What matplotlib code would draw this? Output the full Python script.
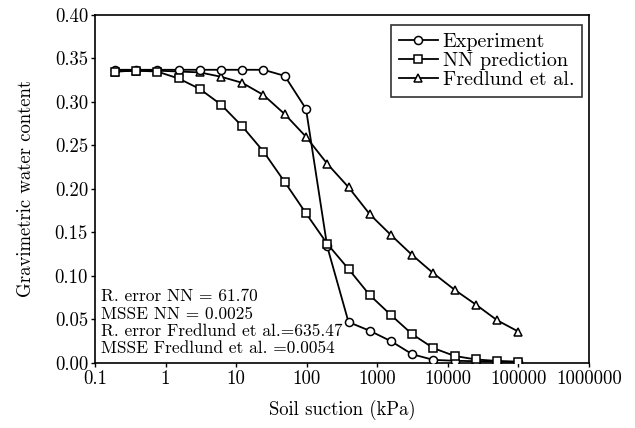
#!/usr/bin/env python3
"""Soil-water characteristic curve: experiment vs NN prediction vs Fredlund et al."""

import matplotlib
matplotlib.use("Agg")
import matplotlib.pyplot as plt

# suction values (kPa), halving steps down from 100000
suction = [0.19, 0.38, 0.76, 1.53, 3.05, 6.1, 12.2, 24.4, 48.8, 97.7,
           195, 391, 781, 1563, 3125, 6250, 12500, 25000, 50000, 100000]

experiment = [0.337, 0.337, 0.337, 0.337, 0.337, 0.337, 0.337, 0.337, 0.330, 0.292,
              0.134, 0.047, 0.037, 0.025, 0.010, 0.0035, 0.0025, 0.002, 0.0015, 0.001]

nn_pred = [0.335, 0.336, 0.335, 0.327, 0.315, 0.297, 0.272, 0.243, 0.208, 0.172,
           0.137, 0.108, 0.078, 0.055, 0.033, 0.017, 0.008, 0.004, 0.0023, 0.0015]

fredlund = [0.335, 0.336, 0.336, 0.335, 0.334, 0.329, 0.322, 0.308, 0.286, 0.260,
            0.229, 0.202, 0.171, 0.147, 0.124, 0.103, 0.084, 0.067, 0.049, 0.036]

xticks = [0.1, 1, 10, 100, 1000, 10000, 100000, 1000000]
xtick_labels = ["0.1", "1", "10", "100", "1000", "10000", "100000", "1000000"]
yticks = [0.00, 0.05, 0.10, 0.15, 0.20, 0.25, 0.30, 0.35, 0.40]

notes = [
    "R. error NN = 61.70",
    "MSSE NN = 0.0025",
    "R. error Fredlund et al.=635.47",
    "MSSE Fredlund et al. =0.0054",
]

plt.rcParams["font.family"] = ["cmr10", "DejaVu Serif"]
plt.rcParams["mathtext.fontset"] = "cm"
plt.rcParams["axes.formatter.use_mathtext"] = True

fig = plt.figure(figsize=(6.35, 4.28), dpi=100)
ax = fig.add_axes([0.1496, 0.152, 0.778, 0.813])

style = dict(color="black", lw=1.3, markerfacecolor="white",
             markeredgecolor="black", markeredgewidth=1.1, markersize=5.8)
ax.plot(suction, fredlund, marker="^", label="Fredlund et al.", zorder=3, **style)
ax.plot(suction, experiment, marker="o", label="Experiment", zorder=4, **style)
ax.plot(suction, nn_pred, marker="s", label="NN prediction", zorder=5, **style)

ax.set_xscale("log")
ax.set_xlim(0.1, 1000000)
ax.set_ylim(0, 0.40)
ax.set_xticks(xticks)
ax.set_xticklabels(xtick_labels)
ax.minorticks_off()
ax.set_yticks(yticks)
ax.set_yticklabels([f"{v:.2f}" for v in yticks])
ax.tick_params(direction="out", length=3, width=1, labelsize=13.5, pad=2)
for sp in ax.spines.values():
    sp.set_linewidth(1.2)

ax.set_xlabel("Soil suction (kPa)", fontsize=13.5, labelpad=9)
ax.set_ylabel("Gravimetric water content", fontsize=13.5, labelpad=14)

handles, labels = ax.get_legend_handles_labels()
order = [1, 2, 0]
leg = ax.legend([handles[i] for i in order], [labels[i] for i in order],
                loc="upper right", bbox_to_anchor=(0.986, 0.971), borderaxespad=0,
                fontsize=14.5, frameon=True, fancybox=False, edgecolor="black",
                handlelength=1.9, handletextpad=0.25, borderpad=0.4,
                labelspacing=0.05, numpoints=1)
leg.get_frame().set_linewidth(1.2)

for i, line in enumerate(notes):
    ax.text(0.012, 0.19 - i * 0.049, line, transform=ax.transAxes,
            fontsize=12.5, ha="left", va="center")

fig.savefig("out.png", dpi=100)
plt.close(fig)
